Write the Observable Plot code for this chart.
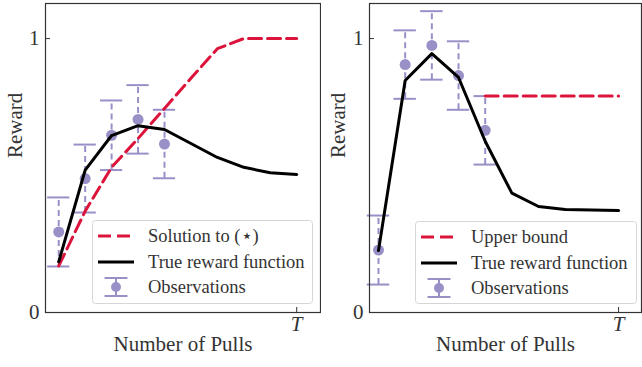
<!DOCTYPE html>
<html><head><meta charset="utf-8">
<script src="https://cdn.jsdelivr.net/npm/d3@7"></script>
<script src="https://cdn.jsdelivr.net/npm/@observablehq/plot@0.6"></script>
<style>
body{margin:0;background:#fff;}
#wrap{position:relative;width:642px;height:367px;display:flex;}
.panel{position:relative;width:321px;height:367px;}
.legend{position:absolute;}
</style></head><body><div id="wrap"><div class="panel" id="p1"></div><div class="panel" id="p2"></div></div>
<script>
// ---- data ----
const pulls = [1, 2, 3, 4, 5, 6, 7, 8, 9, 10];
const obsPulls = [1, 2, 3, 4, 5];

// left panel
const leftSolution = [0.17, 0.37, 0.53, 0.635, 0.745, 0.855, 0.963, 1.0, 1.0, 1.0];
const leftTrue = [0.185, 0.52, 0.646, 0.682, 0.668, 0.617, 0.566, 0.53, 0.51, 0.504];
const leftObs = [0.294, 0.489, 0.647, 0.705, 0.615];
const leftErr = [0.126, 0.124, 0.127, 0.125, 0.125];

// right panel
const rightTrue = [0.226, 0.847, 0.945, 0.858, 0.625, 0.436, 0.387, 0.376, 0.374, 0.372];
const rightObs = [0.228, 0.905, 0.975, 0.865, 0.665];
const rightErr = [0.126, 0.125, 0.125, 0.125, 0.125];
const boundPulls = [5, 10];
const rightBound = [0.79, 0.79];

const xTicks = [10];
const xTickLabels = ["T"];
const yTicks = [0, 1];

const leftLegend = ["Solution to (\u22C6)", "True reward function", "Observations"];
const rightLegend = ["Upper bound", "True reward function", "Observations"];

// ---- style ----
const RED = "#dc143c", PURPLE = "#9a90c8", INK = "#333";
const FONT = "Liberation Serif";

function panel(el, {xDomain, marginLeft, dashX, dashY, trueY, obsY, obsE, labelDx}) {
  const obs = obsPulls.map((x, i) => ({x, y: obsY[i], e: obsE[i]}));
  const tru = pulls.map((x, i) => ({x, y: trueY[i]}));
  const dash = dashX.map((x, i) => ({x, y: dashY[i]}));
  const cap = 0.42;
  const p = Plot.plot({
    width: 321, height: 367,
    marginLeft, marginRight: 1, marginTop: 3, marginBottom: 55,
    style: {fontFamily: FONT, fontSize: "21px", color: INK, background: "transparent"},
    x: {domain: xDomain},
    y: {domain: [0, 1.128]},
    marks: [
      Plot.ruleX(obs, {x: "x", y1: d => d.y - d.e, y2: d => d.y + d.e, stroke: PURPLE, strokeWidth: 2, strokeDasharray: "6,4"}),
      Plot.ruleY(obs, {y: d => d.y - d.e, x1: d => d.x - cap, x2: d => d.x + cap, stroke: PURPLE, strokeWidth: 2}),
      Plot.ruleY(obs, {y: d => d.y + d.e, x1: d => d.x - cap, x2: d => d.x + cap, stroke: PURPLE, strokeWidth: 2}),
      Plot.dot(obs, {x: "x", y: "y", r: 5.5, fill: PURPLE}),
      Plot.line(dash, {x: "x", y: "y", stroke: RED, strokeWidth: 3, strokeDasharray: "13,6"}),
      Plot.line(tru, {x: "x", y: "y", stroke: "#000", strokeWidth: 3}),
      Plot.frame({stroke: INK, strokeWidth: 1.2}),
      Plot.axisY({ticks: yTicks, tickSize: -5, tickPadding: 11, tickFormat: d => String(d), fontSize: 21, label: null}),
      Plot.axisX({ticks: xTicks, tickSize: -5, tickPadding: 9, tickFormat: (d, i) => xTickLabels[i], fontSize: 21, fontStyle: "italic", label: null}),
      Plot.text(["Reward"], {frameAnchor: "left", rotate: -90, dx: labelDx, fontSize: 21, fill: INK}),
      Plot.text(["Number of Pulls"], {frameAnchor: "bottom", dy: 38, fontSize: 21, fill: INK})
    ]
  });
  el.appendChild(p);
}

function legend(el, {left, top, width, height, labels}) {
  const svg = d3.create("svg").attr("class", "legend")
    .attr("width", width + 2).attr("height", height + 2)
    .style("left", left + "px").style("top", top + "px");
  svg.append("rect").attr("x", 0.5).attr("y", 0.5).attr("width", width).attr("height", height)
    .attr("rx", 3).attr("fill", "rgba(255,255,255,0.85)").attr("stroke", "#d6d6d6");
  const rows = [16, 42, 67];
  const sx0 = 6, sx1 = 42, tx = 56;
  svg.append("line").attr("x1", sx0).attr("x2", sx1).attr("y1", rows[0]).attr("y2", rows[0])
    .attr("stroke", RED).attr("stroke-width", 3).attr("stroke-dasharray", "13,6");
  svg.append("line").attr("x1", sx0).attr("x2", sx1).attr("y1", rows[1]).attr("y2", rows[1])
    .attr("stroke", "#000").attr("stroke-width", 3);
  const cx = (sx0 + sx1) / 2;
  const g = svg.append("g").attr("stroke", PURPLE).attr("stroke-width", 2);
  g.append("line").attr("x1", cx).attr("x2", cx).attr("y1", rows[2] - 9).attr("y2", rows[2] + 9);
  g.append("line").attr("x1", cx - 11.5).attr("x2", cx + 11.5).attr("y1", rows[2] - 9).attr("y2", rows[2] - 9);
  g.append("line").attr("x1", cx - 11.5).attr("x2", cx + 11.5).attr("y1", rows[2] + 9).attr("y2", rows[2] + 9);
  svg.append("circle").attr("cx", cx).attr("cy", rows[2]).attr("r", 5).attr("fill", PURPLE);
  labels.forEach((t, i) => {
    svg.append("text").attr("x", tx).attr("y", rows[i]).attr("dy", "0.35em")
      .attr("font-family", FONT).attr("font-size", 18.5).attr("fill", INK).text(t);
  });
  el.appendChild(svg.node());
}

const p1 = document.getElementById("p1"), p2 = document.getElementById("p2");
panel(p1, {xDomain: [0.5, 10.9], marginLeft: 45, dashX: pulls, dashY: leftSolution,
  trueY: leftTrue, obsY: leftObs, obsE: leftErr, labelDx: -30});
panel(p2, {xDomain: [0.6625, 10.86], marginLeft: 48, dashX: boundPulls, dashY: rightBound,
  trueY: rightTrue, obsY: rightObs, obsE: rightErr, labelDx: -31});
legend(p1, {left: 92, top: 220, width: 220, height: 83, labels: leftLegend});
legend(p2, {left: 94, top: 221, width: 221, height: 82, labels: rightLegend});
</script></body></html>
